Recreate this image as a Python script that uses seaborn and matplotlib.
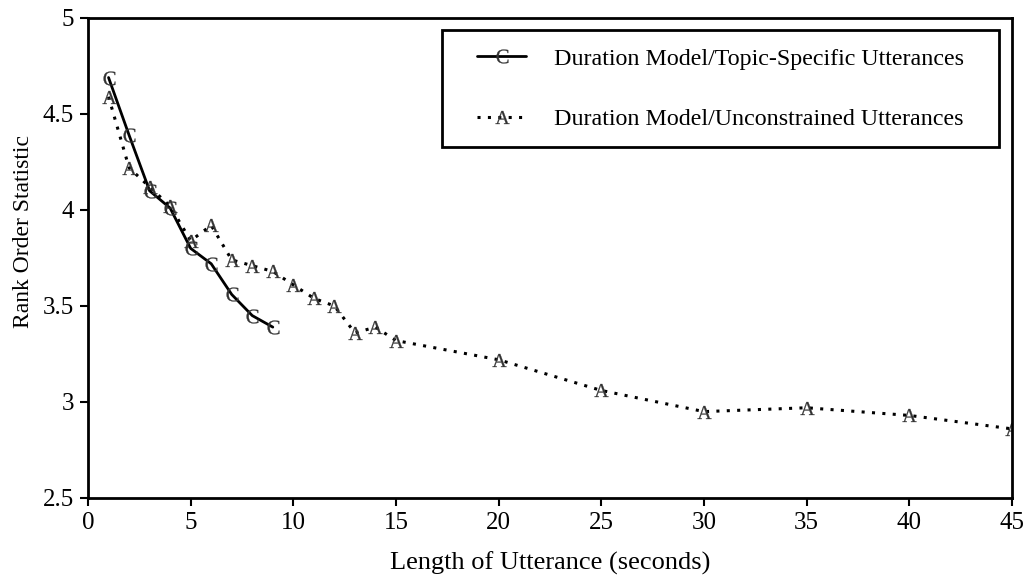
import matplotlib
matplotlib.use("Agg")
import matplotlib.pyplot as plt
import seaborn as sns
import pandas as pd
from matplotlib.patches import Rectangle

# Data
x_topic = [1, 2, 3, 4, 5, 6, 7, 8, 9]
y_topic = [4.69, 4.39, 4.10, 4.01, 3.80, 3.72, 3.56, 3.45, 3.39]
x_uncon = [1, 2, 3, 4, 5, 6, 7, 8, 9, 10, 11, 12, 13, 14, 15, 20, 25, 30, 35, 40, 45]
y_uncon = [4.59, 4.22, 4.12, 4.02, 3.84, 3.92, 3.74, 3.71, 3.68, 3.61, 3.54, 3.50,
           3.36, 3.39, 3.32, 3.22, 3.06, 2.95, 2.97, 2.93, 2.86]
label_topic = "Duration Model/Topic-Specific Utterances"
label_uncon = "Duration Model/Unconstrained Utterances"
x_ticks = [0, 5, 10, 15, 20, 25, 30, 35, 40, 45]
y_ticks = [2.5, 3, 3.5, 4, 4.5, 5]

sns.set_theme(style="white")
plt.rcParams['font.family'] = ['Liberation Serif', 'DejaVu Serif']
plt.rcParams['mathtext.fontset'] = 'custom'
plt.rcParams['mathtext.rm'] = 'Liberation Serif'

W, H = 1026, 581
fig = plt.figure(figsize=(W/100, H/100), dpi=100)
ax = fig.add_axes([88/W, 1-498/H, (1012-88)/W, (498-18)/H])

df1 = pd.DataFrame({"x": x_topic, "y": y_topic})
df2 = pd.DataFrame({"x": x_uncon, "y": y_uncon})

mk = dict(markersize=10, markeredgewidth=0.2, markeredgecolor="#333333",
          markerfacecolor="#333333")
sns.lineplot(data=df1, x="x", y="y", ax=ax, color="black", linewidth=2,
             marker=r"$\mathrm{C}$", label=label_topic, **mk)
sns.lineplot(data=df2, x="x", y="y", ax=ax, color="black", linewidth=2.2,
             linestyle=(0, (1, 2.4)), marker=r"$\mathrm{A}$",
             label=label_uncon, **mk)

ax.set_xlim(0, 45)
ax.set_ylim(2.5, 5)
ax.set_xticks(x_ticks)
ax.set_yticks(y_ticks)
ax.set_xticklabels([str(t) for t in x_ticks])
ax.set_yticklabels([f"{t:g}" for t in y_ticks])
ax.tick_params(axis="both", direction="out", length=6, width=1.5, labelsize=18,
               colors="black", bottom=True, left=True, pad=4)
for s in ax.spines.values():
    s.set_color("black")
    s.set_linewidth(2)
ax.set_xlabel("Length of Utterance (seconds)", fontsize=19, color="black", labelpad=13)
ax.set_ylabel("Rank Order Statistic", fontsize=17, color="black")
ax.yaxis.set_label_coords(-0.058, 0.556)
ax.grid(False)

# legend frame (drawn as separate box) and entries
ax.add_patch(Rectangle((442/W, 1-147/H), (999-442)/W, (147-30)/H,
                       transform=fig.transFigure, fill=True, clip_on=False,
                       facecolor="white", edgecolor="black",
                       linewidth=2, zorder=5))
leg = ax.legend(loc="upper left", bbox_to_anchor=(477/W, 1-48/H),
                bbox_transform=fig.transFigure, frameon=False,
                fontsize=17.3, handlelength=2.05, labelspacing=1.6,
                borderpad=0, handletextpad=1.15, borderaxespad=0)
leg.set_zorder(10)
for t in leg.get_texts():
    t.set_color("black")

fig.savefig("out.png", dpi=100)
